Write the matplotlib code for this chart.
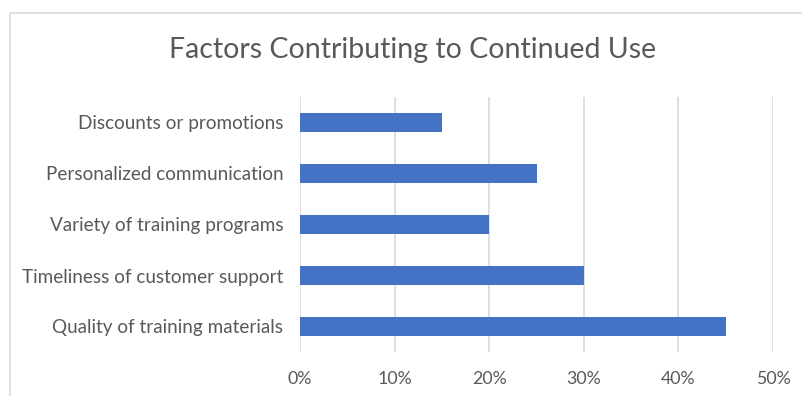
import matplotlib.pyplot as plt
from matplotlib.patches import Rectangle
from matplotlib.ticker import PercentFormatter

# Data
factors = [
    "Quality of training materials",
    "Timeliness of customer support",
    "Variety of training programs",
    "Personalized communication",
    "Discounts or promotions",
]
shares = [45, 30, 20, 25, 15]
xticks = [0, 10, 20, 30, 40, 50]

plt.rcParams['font.family'] = ['Lato', 'DejaVu Sans']
text_col = "#595959"
grid_col = "#d9d9d9"

fig = plt.figure(figsize=(8.03, 3.96), dpi=100)
ax = fig.add_axes([300 / 803, 1 - 352 / 396, 473 / 803, 255 / 396])

# chart border (only left/top visible in the crop)
fig.patches.append(Rectangle((10 / 803, -0.1), 1.2, 1 - 13 / 396 + 0.1,
                             transform=fig.transFigure, fill=False,
                             edgecolor=grid_col, lw=1.2))

ax.barh(range(len(factors)), shares, height=0.36, color="#4472C4", zorder=3)

ax.set_xlim(0, 50)
ax.set_ylim(-0.5, len(factors) - 0.5)
ax.set_xticks(xticks)
ax.xaxis.set_major_formatter(PercentFormatter(decimals=0))
ax.set_yticks(range(len(factors)))
ax.set_yticklabels(factors)
ax.grid(axis="x", color=grid_col, lw=1.2, zorder=0)
for s in ax.spines.values():
    s.set_visible(False)
ax.tick_params(axis="both", length=0, colors=text_col)
ax.tick_params(axis="x", pad=14, labelsize=12.8)
ax.tick_params(axis="y", pad=12, labelsize=13.6)

fig.text(413 / 803, 1 - 50 / 396, "Factors Contributing to Continued Use",
         ha="center", va="center", fontsize=20.5, color=text_col)

fig.savefig("out.png", dpi=100)
